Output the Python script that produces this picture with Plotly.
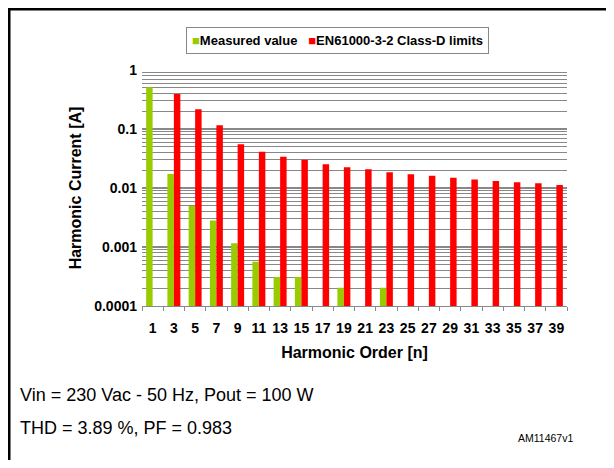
import plotly.graph_objects as go

harmonics = ["1", "3", "5", "7", "9", "11", "13", "15", "17", "19",
             "21", "23", "25", "27", "29", "31", "33", "35", "37", "39"]
measured = [0.51, 0.0173, 0.00495, 0.0028, 0.00116, 0.00056, 0.00031, 0.00031, None, 0.000204,
            None, 0.000204, None, None, None, None, None, None, None, None]
limits = [None, 0.392, 0.216, 0.116, 0.055, 0.041, 0.034, 0.030, 0.0252, 0.0224,
          0.0207, 0.0185, 0.0171, 0.0162, 0.0149, 0.0140, 0.0131, 0.0125, 0.0120, 0.0112]
y_ticks = [1, 0.1, 0.01, 0.001, 0.0001]
y_tick_text = ["1", "0.1", "0.01", "0.001", "0.0001"]
series_names = ["Measured value", "EN61000-3-2 Class-D limits"]
series_colors = ["#99cc00", "#ff0000"]

FONT = "Liberation Sans, Arial, sans-serif"

# page offset of the figure (browser body margin)
OFF = 8
W, H = 614 - 2 * OFF, 468 - 2 * OFF
# plot area in page pixels
PL, PR, PT, PB = 142, 567, 70, 306
PW, PH = PR - PL, PB - PT


def px(x):
    return (x - PL) / PW


def py(y):
    return (PB - y) / PH


fig = go.Figure()
fig.add_trace(go.Bar(x=harmonics, y=measured, name=series_names[0],
                     marker=dict(color=series_colors[0], line=dict(width=0))))
fig.add_trace(go.Bar(x=harmonics, y=limits, name=series_names[1],
                     marker=dict(color=series_colors[1], line=dict(width=0))))

fig.update_layout(
    width=W, height=H,
    margin=dict(l=PL - OFF, r=(W + OFF) - PR, t=PT - OFF, b=(H + OFF) - PB, autoexpand=False),
    paper_bgcolor="white", plot_bgcolor="white",
    barmode="group", bargap=0.39, bargroupgap=0,
    font=dict(family=FONT, color="black"),
    showlegend=False,
    xaxis=dict(type="category", tickson="boundaries", ticks="outside", ticklen=4,
               tickcolor="#888888", showline=True, linecolor="#888888", linewidth=1,
               showgrid=False, tickangle=0, ticklabelstandoff=9,
               tickfont=dict(size=14, family=FONT, weight="bold"),
               title=dict(text="Harmonic Order [n]", font=dict(size=16, weight="bold"), standoff=12)),
    yaxis=dict(type="log", range=[-4, 0], tickvals=y_ticks, ticktext=y_tick_text,
               showgrid=True, gridcolor="#888888", gridwidth=2,
               minor=dict(showgrid=True, dtick="D1", gridcolor="#888888", gridwidth=1.4),
               showline=False, zeroline=False, ticks="", ticklabelstandoff=4,
               tickfont=dict(size=14, family=FONT, weight="bold"),
               title=dict(text="Harmonic Current [A]", font=dict(size=16, weight="bold"), standoff=8)),
)

# legend box (drawn as text with coloured keys)
legend_text = ("<span style='color:%s'>■</span><b>%s</b>   <span style='color:%s'>■</span><b>%s</b>"
               % (series_colors[0], series_names[0], series_colors[1], series_names[1]))
fig.add_annotation(xref="paper", yref="paper", x=px(337), y=py(40.5), xanchor="center", yanchor="middle",
                   text=legend_text, showarrow=False, font=dict(size=13, family=FONT),
                   bordercolor="#888888", borderwidth=1, borderpad=5, bgcolor="white")

fig.add_annotation(xref="paper", yref="paper", xanchor="left", yanchor="middle",
                   x=px(18), y=py(395),
                   text="Vin = 230 Vac - 50 Hz, Pout = 100 W", showarrow=False,
                   font=dict(size=18, family=FONT))
fig.add_annotation(xref="paper", yref="paper", xanchor="left", yanchor="middle",
                   x=px(18), y=py(428),
                   text="THD = 3.89 %, PF = 0.983", showarrow=False,
                   font=dict(size=18, family=FONT))
fig.add_annotation(xref="paper", yref="paper", xanchor="right", yanchor="middle",
                   x=px(575), y=py(438),
                   text="AM11467v1", showarrow=False,
                   font=dict(size=10.5, family=FONT))

# page frame (top and left edges)
fig.add_shape(type="line", xref="paper", yref="paper", x0=px(8), x1=px(614),
              y0=py(9), y1=py(9), line=dict(color="black", width=3))
fig.add_shape(type="line", xref="paper", yref="paper", x0=px(9), x1=px(9),
              y0=py(8), y1=py(468), line=dict(color="black", width=3))

fig.write_html("out.html")
